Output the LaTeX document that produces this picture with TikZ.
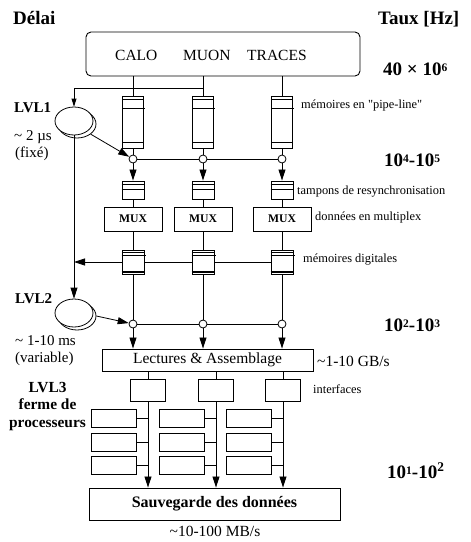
\documentclass[tikz,border=0pt]{standalone}
\usepackage{fontspec}
\setmainfont{Liberation Serif}
\usetikzlibrary{positioning,arrows.meta,calc,shapes.geometric}
\newcommand\ratesup[1]{\raisebox{0.45ex}{\fontsize{11.5}{12}\selectfont #1}}

\begin{document}
\begin{tikzpicture}[x=1pt,y=-1pt,
    every node/.style={font=\fontsize{15.5}{18}\selectfont,inner sep=0pt},
    ln/.style={line width=0.8pt},
    ar/.style={ln,-{Triangle[length=11pt,width=7pt]}},
    arsmall/.style={ln,-{Triangle[length=8pt,width=5pt]}},
    box/.style={draw,line width=0.9pt,fill=white,inner sep=0pt},
    pipe/.style={box,minimum width=21pt,minimum height=52pt},
    buf/.style={box,minimum width=22pt,minimum height=18pt},
    mux/.style={box,minimum width=58pt,minimum height=24pt,
                font=\bfseries\fontsize{11.7}{14}\selectfont},
    dmem/.style={box,minimum width=22pt,minimum height=24pt},
    junc/.style={circle,draw,ln,fill=white,minimum size=8pt},
    iface/.style={box,minimum width=35pt,minimum height=22pt},
    proc/.style={box,minimum width=45pt,minimum height=18pt},
    trig/.style={ellipse,draw,ln,fill=white,minimum width=38pt,minimum height=28pt},
    head/.style={anchor=base west,font=\bfseries\fontsize{19}{22}\selectfont},
    rate/.style={anchor=base west,font=\bfseries\fontsize{19}{22}\selectfont},
    note/.style={anchor=base west,font=\fontsize{12.4}{14}\selectfont},
    side/.style={anchor=base west,font=\fontsize{15}{18}\selectfont},
    lvl/.style={anchor=base west,font=\bfseries\fontsize{15}{18}\selectfont}]

  \useasboundingbox (0,0) rectangle (471,542);

  % titres
  \node[head] (delai) at (13,24) {Délai};
  \node[head] (taux) at (378,24) {Taux [Hz]};

  % detecteurs
  \node[draw,line width=0.9pt,rounded corners=5pt,minimum width=274pt,
        minimum height=44pt] (det) at (223,54) {};
  \node[anchor=base west] (calo) at (115,60) {CALO};
  \node[anchor=base west] (muon) at (183,60) {MUON};
  \node[anchor=base west] (trac) at (247,60) {TRACES};

  % colonnes
  \foreach \c/\x in {1/133,2/203,3/282}{
    \node[pipe] (pl\c) at (\x,122) {};
    \draw[ln] ([yshift=-4pt]pl\c.north west) -- ([yshift=-4pt]pl\c.north east);
    \draw[ln] ([yshift=-13pt]pl\c.north west) -- ([shift={(1.5pt,-13pt)}]pl\c.north east);
    \draw[ln] ([yshift=6pt]pl\c.south west) -- ([yshift=6pt]pl\c.south east);
    \node[junc] (ja\c) at (\x,159) {};
    \node[buf] (tb\c) at (\x,190) {};
    \draw[ln] ([yshift=-4pt]tb\c.north west) -- ([yshift=-4pt]tb\c.north east);
    \draw[ln] ([yshift=-9pt]tb\c.north west) -- ([yshift=-9pt]tb\c.north east);
    \node[mux] (mux\c) at (\x,219) {MUX};
    \node[dmem] (md\c) at (\x,262) {};
    \draw[ln] ([yshift=-3pt]md\c.north west) -- ([yshift=-3pt]md\c.north east);
    \draw[ln] ([yshift=-6pt]md\c.north west) -- ([shift={(1.5pt,-6pt)}]md\c.north east);
    \draw[line width=1.2pt] ([yshift=2.5pt]md\c.south west) -- ([yshift=2.5pt]md\c.south east);
    \node[junc] (jb\c) at (\x,324) {};
  }

  % declencheurs
  \node[trig] (lvlas) at (77,124) {};
  \node[trig] (lvla) at (74,121) {};
  \node[trig] (lvlbs) at (77,316) {};
  \node[trig] (lvlb) at (74,313) {};

  \node[lvl] (l1) at (14,112) {LVL1};
  \node[side] (l1t) at (14,140) {\textasciitilde{} 2 µs};
  \node[side] (l1f) at (15,157) {(fixé)};
  \node[lvl] (l2) at (15,303) {LVL2};
  \node[side] (l2t) at (15,345) {\textasciitilde{} 1-10 ms};
  \node[side] (l2f) at (15,362) {(variable)};
  \node[font=\bfseries\fontsize{15.4}{17.5}\selectfont,align=center,anchor=base]
    (l3) at (47.5,427) {LVL3\\ferme de\\processeurs};

  % lecture et sauvegarde
  \node[box,minimum width=211pt,minimum height=22pt] (lect) at (207.5,360)
    {Lectures \& Assemblage};
  \node[box,minimum width=251pt,minimum height=32pt,
        font=\bfseries\fontsize{16}{18}\selectfont] (sauv) at (214.5,504)
    {Sauvegarde des données};
  \node[anchor=base] (debit) at (215,536) {\textasciitilde10-100 MB/s};

  % liaisons des colonnes
  \foreach \c in {1,2,3}{
    \draw[ln] (det.south -| pl\c.north) -- (pl\c.north);
    \draw[ln] (pl\c) -- (ja\c);
    \draw[ar] (ja\c) -- (tb\c);
    \draw[ln] (tb\c) -- (mux\c);
    \draw[ln] (mux\c) -- (md\c);
    \draw[ln] (md\c) -- (jb\c);
    \draw[ar] (jb\c) -- (jb\c |- lect.north);
  }
  \draw[ln] (ja1) -- (ja2) -- (ja3);
  \draw[ln] (jb1) -- (jb2) -- (jb3);

  \coordinate (tap) at (74,88);
  \draw[ln] (pl2.north |- tap) -- (tap);
  \draw[arsmall] (tap) -- (lvla.north);
  \draw[ar] (lvla.south) -- (lvlb.north);
  \draw[ln] (md3.west) -- (md2.east);
  \draw[ln] (md2.west) -- (md1.east);
  \draw[ar] (md1.west) -- (md1.west -| lvla.south);
  \draw[ar] (lvlas.south east) -- (ja1);
  \draw[ar] (lvlbs.east) -- (jb1);

  % interfaces et ferme
  \foreach \c/\x in {1/148,2/216,3/283}{
    \node[iface] (if\c) at (\x,390) {};
    \draw[ln] (lect.south -| if\c) -- (if\c);
    \draw[ar] (if\c) -- (if\c |- sauv.north);
    \foreach \r/\y in {1/418,2/442,3/465.5}{
      \node[proc] (pr\c\r) at (\x-34,\y) {};
      \draw[ln] (pr\c\r) -- (pr\c\r -| if\c);
    }
  }

  % taux et annotations
  \node[rate] (r1) at (383,75) {40 × 10\ratesup{6}};
  \node[rate] (r2) at (384,166) {10\ratesup{4}-10\ratesup{5}};
  \node[rate] (r3) at (384,331) {10\ratesup{2}-10\ratesup{3}};
  \node[rate] (r4) at (387,478) {10\ratesup{1}-10\textsuperscript{2}};
  \node[note] (n1) at (301,108) {mémoires en \textquotedbl pipe-line\textquotedbl};
  \node[note] (n2) at (297,194) {tampons de resynchronisation};
  \node[note] (n3) at (315,220) {données en multiplex};
  \node[note] (n4) at (303,262) {mémoires digitales};
  \node[side,font=\fontsize{15.5}{18}\selectfont] (n5) at (317,366) {\textasciitilde1-10 GB/s};
  \node[note] (n6) at (313,393) {interfaces};
\end{tikzpicture}
\end{document}
